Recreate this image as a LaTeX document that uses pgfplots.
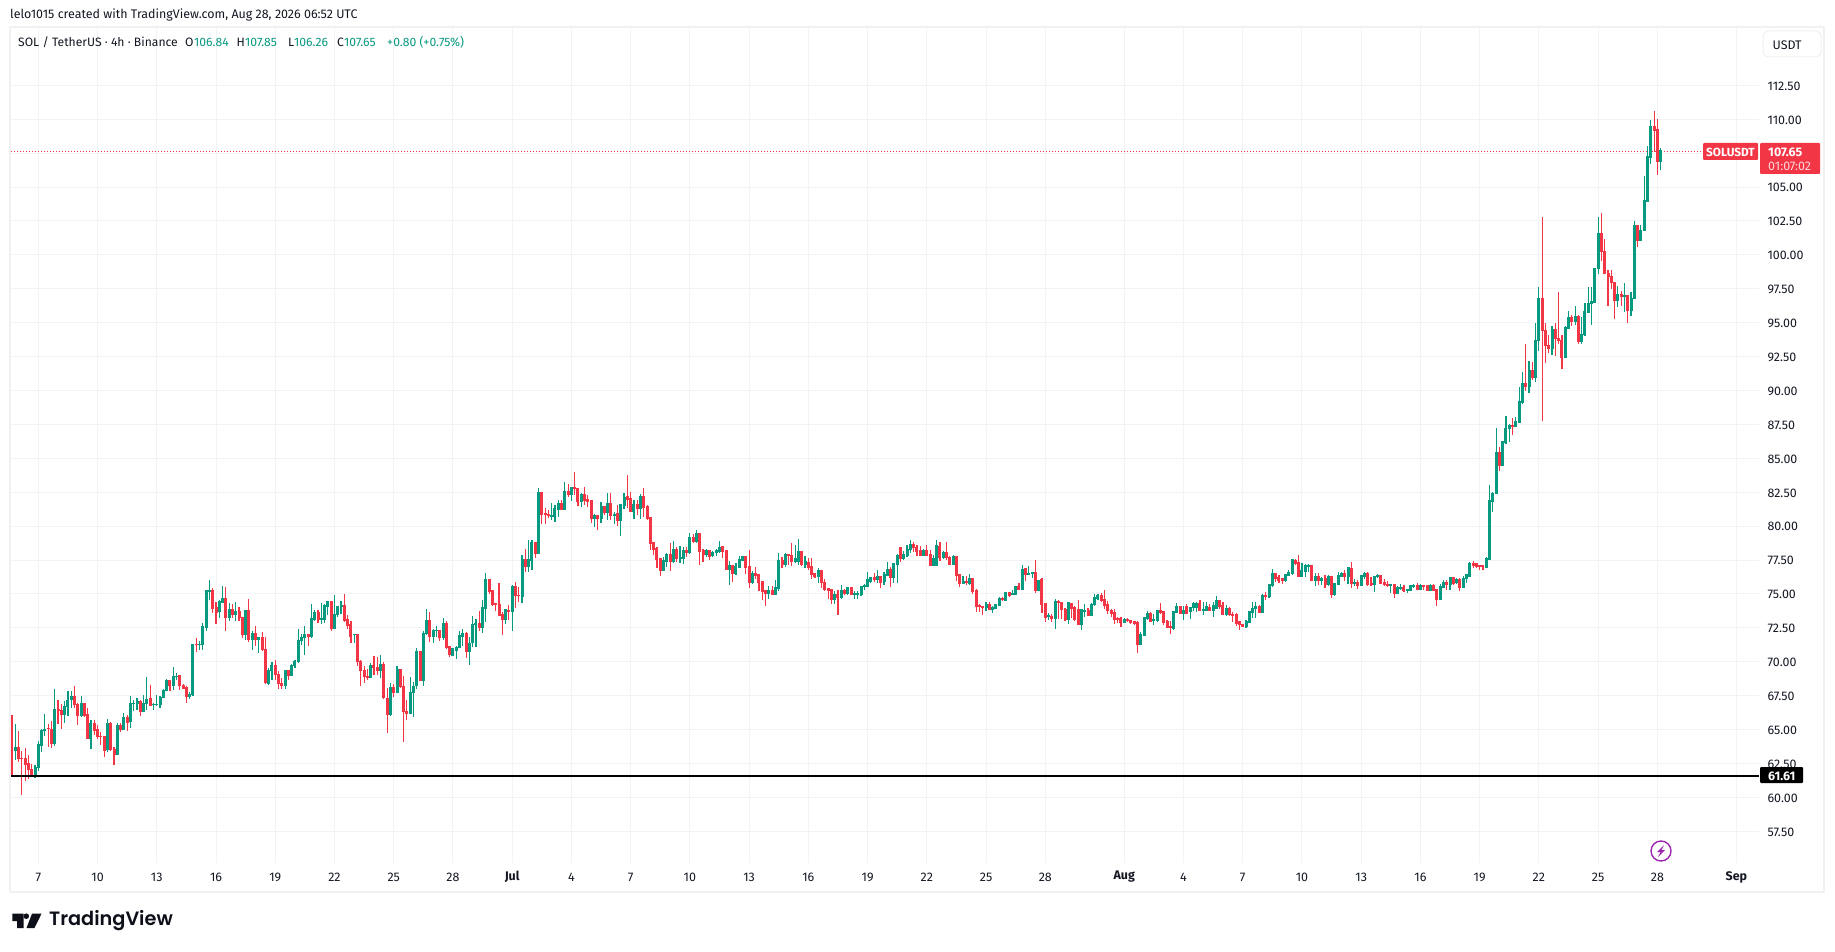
\documentclass[border=0pt]{standalone}
\usepackage{pgfplots}
\usepackage{pgfplotstable}
\usepackage{fontspec}
\pgfplotsset{compat=1.18}
\setmainfont{Fira Sans}
\newfontfamily\tvfont{Poppins}[BoldFont={* SemiBold}]
\definecolor{up}{HTML}{089981}
\definecolor{down}{HTML}{F23645}
\definecolor{gridc}{HTML}{F2F3F5}
\definecolor{framec}{HTML}{F1F1F1}
\definecolor{ink}{HTML}{131722}
\definecolor{purp}{HTML}{9C27B0}
\newcommand\fs{\fontsize{12.45}{15}\selectfont}
\newcommand\fl{\fontsize{12.15}{15}\selectfont}
% columns: bar index, body top, body bottom, wick top, wick bottom
\pgfplotstableread{
i bt bb wt wb
1 63.63 63.41 65.44 62.79
7 62.2 61.57 62.38 61.42
8 63.85 62.13 64.14 61.96
9 64.93 63.77 65.02 63.36
10 65.02 64.88 66.13 64.5
13 66.5 63.92 67.97 63.77
16 66.7 66.05 67.08 65.47
17 67.16 66.64 67.82 65.98
18 67.45 67.16 67.82 66.57
21 66.94 65.98 67.45 65.9
24 65.4 64.29 65.69 63.55
29 65.47 63.48 65.76 63.33
32 65.32 63.11 65.47 63.11
34 65.9 64.95 66.2 64.95
36 66.94 65.54 67.45 65.1
37 66.94 66.86 67.16 66.35
38 67.08 66.86 67.3 66.42
40 66.94 66.27 67.52 66.27
41 67.23 66.86 68.85 66.42
43 66.86 66.79 66.94 66.42
44 66.86 66.79 67.52 66.72
45 67.38 66.79 67.45 66.57
46 67.89 67.3 67.97 67.3
47 68.63 67.82 68.7 67.82
49 68.92 68.19 69.58 67.89
50 68.92 68.85 69.14 68.63
54 67.6 67.38 67.75 67.23
55 71.27 67.52 71.27 67.45
57 71.27 71.2 71.5 70.83
58 72.6 71.2 72.82 70.83
59 75.25 72.52 75.25 72.3
60 75.25 75.17 76.05 74.58
63 74.44 73.7 74.58 73.19
64 74.66 74.36 75.6 74.36
66 73.85 73.19 74.36 73.04
68 73.7 73.48 74.44 73.04
71 73.77 71.94 73.85 71.57
73 72.08 71.57 72.23 70.83
75 71.79 71.57 71.86 70.61
78 69.36 68.33 69.51 68.26
79 69.73 69.29 69.95 68.63
83 69.36 68.19 69.36 67.97
85 69.73 68.92 69.8 68.92
86 70.02 69.66 70.1 69.51
87 71.57 69.95 72.45 69.88
88 71.79 71.5 72.08 71.2
89 72.01 71.72 72.6 70.47
91 73.19 71.79 74.29 71.72
92 73.63 73.11 73.85 72.97
94 73.19 73.11 74.36 72.75
95 74.14 73.11 74.29 72.89
96 74.44 74.07 74.51 73.41
98 73.48 72.38 74.95 72.38
99 74.07 73.48 74.14 73.33
100 74.14 74.07 74.51 73.55
104 72.01 71.94 72.08 71.35
109 69.73 68.77 69.88 68.77
112 69.8 69.29 70.47 68.77
115 68.11 66.05 68.41 65.98
117 69.44 67.67 69.66 67.67
121 67.75 66.13 68.85 66.13
122 68.19 67.67 68.48 65.9
123 70.76 68.19 70.98 67.97
125 72.08 68.55 72.23 68.19
126 73.04 72.01 73.92 71.94
128 72.3 71.86 72.38 71.35
129 72.3 72.23 72.6 71.79
131 72.82 71.72 73.19 71.64
134 70.98 70.39 70.98 70.39
135 71.05 70.76 71.13 70.17
136 71.94 70.98 72.23 70.98
137 72.08 71.86 72.38 71.13
139 71.35 70.69 71.79 69.73
140 72.71 71.36 73.38 71.12
141 72.79 72.71 73.13 71.12
143 73.97 72.49 74.56 72.15
144 76.03 73.92 76.55 72.96
150 73.82 73.08 73.87 72.79
152 75.52 73.67 75.66 72.27
155 77.51 74.8 77.87 74.36
157 77.51 76.99 78.98 76.62
158 78.76 77.43 78.98 76.77
160 82.44 77.95 82.81 77.95
164 80.75 80.68 81.73 80.45
165 81.27 80.68 81.56 80.31
166 81.63 81.19 81.93 80.68
168 82.52 81.19 83.26 81.19
170 82.81 82.3 82.89 81.85
173 82.3 81.78 82.44 81.41
177 80.75 80.53 80.9 79.94
179 81.41 80.53 81.78 80.23
181 81.63 80.97 82.44 80.45
183 80.82 80.75 81.04 80.16
185 81.56 80.38 81.56 79.28
186 82.08 81.49 82.44 81.27
189 81.56 81.04 81.93 80.53
191 82.15 81.27 82.37 80.53
198 77.43 76.7 77.73 76.7
199 77.87 77.36 78.02 76.99
201 78.24 77.36 78.91 77.28
203 77.65 77.58 78.54 77.28
204 78.17 77.58 78.46 77.21
206 79.13 78.02 79.5 77.95
208 79.42 78.83 79.72 78.76
211 78.17 77.87 78.32 77.73
213 78.02 77.8 78.17 77.73
214 78.17 78.02 78.32 77.8
215 78.39 78.1 78.91 78.02
218 77.06 76.77 77.43 75.66
220 76.99 76.47 77.28 76.4
221 77.51 76.92 77.8 76.92
222 77.73 77.43 77.8 77.43
225 76.47 75.81 76.7 75.74
230 75.22 75.0 75.59 74.63
232 75.44 74.93 76.03 74.93
233 77.43 75.37 78.02 75.22
235 77.87 77.14 78.02 76.99
238 77.58 77.36 78.61 77.28
239 78.1 77.36 79.05 77.14
241 77.36 77.14 77.8 76.92
245 76.7 76.25 76.92 75.81
250 74.93 74.56 75.22 74.26
252 75.22 74.71 75.66 74.63
254 75.44 75.0 75.52 74.93
256 75.0 74.93 75.22 74.63
257 75.0 74.93 75.22 74.63
258 75.52 74.93 75.59 74.85
259 75.59 75.52 75.74 75.3
260 76.03 75.52 76.62 75.52
261 76.18 75.88 76.25 75.81
263 76.25 76.03 76.77 75.81
265 76.4 75.88 76.62 75.66
266 76.77 76.33 77.36 76.33
268 77.21 76.18 77.28 75.81
269 77.8 77.14 77.95 75.81
271 77.9 77.6 78.15 77.53
272 78.27 77.78 78.64 77.73
273 78.64 78.27 78.94 78.02
277 78.22 77.83 78.32 77.83
280 77.58 77.09 77.9 77.09
281 78.57 77.09 78.94 77.09
283 78.02 77.65 78.2 77.58
286 77.73 77.16 77.88 77.16
289 75.9 75.75 76.35 75.75
291 76.12 75.75 76.5 75.65
296 74.2 73.98 74.42 73.75
298 74.0 73.78 74.12 73.6
299 74.2 73.88 74.27 73.88
300 74.64 74.12 74.79 74.12
302 75.09 74.49 75.09 74.49
304 75.01 74.94 75.31 74.94
305 75.53 74.94 75.53 74.94
307 76.79 75.31 77.16 75.31
309 76.49 76.42 77.09 76.42
310 76.57 76.49 76.64 76.17
312 75.98 75.23 76.05 75.23
315 73.38 73.3 73.6 73.09
317 74.42 73.16 74.64 72.42
321 74.35 73.09 74.35 72.79
325 73.83 72.72 73.83 72.35
326 73.75 73.68 74.27 73.3
328 74.2 73.38 74.35 73.38
329 74.72 74.2 75.01 74.12
330 74.86 74.64 75.01 74.57
338 73.09 72.86 73.23 72.86
343 71.98 71.23 72.2 71.23
344 73.23 71.9 73.3 71.9
345 73.53 73.16 73.75 73.09
347 73.09 73.01 73.53 72.72
348 73.75 73.01 73.83 72.94
353 73.68 72.42 73.75 72.35
354 74.05 73.6 74.35 73.6
356 73.75 73.53 74.12 73.09
358 73.98 73.68 74.05 73.16
359 74.27 73.98 74.42 73.75
360 74.27 73.98 74.42 73.68
362 73.83 73.75 74.42 73.46
363 74.05 73.75 74.42 73.75
365 74.12 73.75 74.42 73.3
366 74.49 73.9 74.86 73.9
369 73.9 73.46 74.2 73.38
375 72.94 72.57 73.09 72.49
376 73.68 72.86 73.75 72.86
377 73.9 73.6 74.42 73.23
378 74.05 73.9 74.42 73.23
380 74.86 73.6 75.01 73.6
382 75.68 74.79 75.75 74.72
383 76.49 75.6 76.86 75.53
387 76.42 75.98 76.49 75.9
388 76.57 76.35 76.79 76.35
389 77.53 76.49 77.6 76.42
392 76.72 76.27 77.31 76.27
393 77.09 76.64 77.23 76.27
394 77.09 77.01 77.23 76.64
396 76.27 75.98 76.57 75.6
398 76.12 75.98 76.27 75.68
400 76.27 75.68 76.42 75.6
402 75.75 74.94 75.75 74.86
403 76.35 75.68 76.64 75.68
404 76.49 76.27 76.64 76.27
406 76.94 76.27 76.94 75.75
408 75.83 75.75 76.12 75.6
410 76.35 75.6 76.35 75.6
411 76.49 76.27 76.64 76.12
414 76.27 75.68 76.35 75.16
415 76.35 76.27 76.49 76.2
419 75.68 75.6 75.75 75.09
421 75.46 75.01 75.6 75.01
422 75.46 75.38 75.75 75.31
424 75.31 75.23 75.38 75.09
425 75.6 75.23 75.68 75.23
426 75.6 75.53 75.75 75.46
428 75.6 75.31 75.75 75.31
431 75.6 75.23 75.75 75.23
434 75.53 74.57 75.75 74.57
435 75.83 75.46 76.05 75.46
437 76.2 75.68 76.27 75.31
439 76.05 75.83 76.2 75.75
441 76.12 75.46 76.35 75.46
442 76.42 76.12 76.49 75.83
443 77.23 76.27 77.38 76.27
448 77.58 76.94 77.75 76.94
449 81.84 77.49 83.02 77.49
450 82.36 81.77 82.51 81.03
451 85.38 82.36 87.22 82.36
453 86.19 84.42 86.27 84.42
454 87.22 86.12 88.11 86.04
455 87.37 87.15 87.52 86.19
457 87.67 87.3 88.03 87.3
458 89.14 87.59 90.25 87.59
459 90.47 89.07 91.35 88.99
461 91.43 90.25 92.16 89.8
463 93.67 90.91 95.0 90.6
464 96.77 93.67 97.61 92.88
468 94.48 93.05 94.78 92.64
472 94.63 92.41 94.78 92.41
473 95.37 94.56 95.89 94.56
475 95.44 95.07 96.26 94.85
477 94.11 93.6 95.44 93.45
478 95.81 94.11 96.48 94.04
479 96.4 95.74 97.61 95.74
480 96.55 96.4 97.61 94.85
481 98.99 96.48 98.99 96.48
482 101.58 98.99 102.78 98.62
488 97.07 96.58 97.68 96.18
490 97.0 96.87 97.91 95.76
492 96.77 95.89 97.24 95.52
493 102.12 96.77 102.49 96.77
495 101.75 101.01 102.19 101.01
496 103.97 101.75 105.81 101.75
497 107.22 103.89 108.03 103.89
498 109.43 107.14 109.95 106.7
501 107.65 106.84 107.85 106.26
}\upbars
\pgfplotstableread{
i bt bb wt wb
0 64.29 63.41 66.05 61.52
2 63.63 62.82 64.88 62.62
3 62.87 62.82 63.4 60.17
4 62.82 62.38 63.63 61.23
5 62.45 62.0 63.1 61.35
6 62.06 61.57 62.45 61.47
11 65.1 65.02 65.4 63.73
12 65.02 63.92 65.6 63.63
14 66.5 66.35 67.16 65.39
15 66.42 66.05 66.86 65.02
19 67.45 66.79 68.19 66.57
20 66.86 65.98 66.94 65.32
22 66.94 65.98 66.94 65.9
23 66.13 64.29 66.57 64.29
25 65.47 64.88 65.69 64.58
26 65.02 64.44 65.32 64.29
27 64.51 64.44 64.8 63.85
28 64.51 63.41 64.51 62.97
30 65.47 63.48 65.54 63.41
31 63.55 63.11 63.7 62.38
33 65.32 64.95 65.47 64.8
35 65.9 65.47 66.05 64.88
39 67.08 66.27 67.16 65.98
42 67.3 66.72 68.26 66.72
48 68.63 68.19 68.63 67.82
51 69.0 68.19 69.0 67.89
52 68.26 67.97 68.33 67.97
53 68.11 67.38 68.19 66.94
56 71.27 71.2 71.72 70.69
61 75.25 73.92 75.47 73.63
62 73.99 73.63 74.44 72.75
65 74.66 73.19 75.54 72.3
67 73.85 73.41 74.29 73.26
69 73.7 73.19 74.07 72.97
70 73.28 71.94 73.33 71.72
72 73.77 71.57 74.66 71.42
74 72.08 71.57 72.67 71.13
76 71.79 70.83 72.16 70.76
77 70.91 68.41 71.79 68.33
80 69.73 69.0 70.1 68.63
81 69.07 68.33 69.29 67.97
82 68.41 68.19 68.77 67.97
84 69.36 68.92 69.36 68.63
90 72.01 71.79 72.08 71.13
93 73.63 73.11 73.85 72.89
97 74.44 72.38 74.51 72.3
101 74.14 73.04 75.02 72.97
102 73.11 72.67 73.48 72.45
103 72.75 71.86 72.97 71.35
105 72.01 69.95 72.01 69.66
106 70.02 69.29 70.1 68.19
107 69.36 68.85 69.66 68.41
108 68.92 68.77 69.44 68.63
110 69.73 69.51 70.39 68.99
111 69.58 69.29 70.32 68.99
113 69.8 67.3 69.95 67.23
114 67.3 66.05 68.04 64.73
116 68.11 67.67 68.33 67.38
118 69.44 68.11 69.44 68.04
119 68.19 66.27 68.92 64.07
120 66.35 66.13 67.16 65.69
124 70.76 68.55 70.76 68.55
127 73.04 71.86 73.7 71.42
130 72.3 71.72 72.3 71.5
132 72.82 71.05 73.04 70.91
133 71.13 70.47 71.13 70.32
138 72.08 70.69 72.16 70.25
142 72.79 72.49 73.74 72.27
145 76.03 75.17 76.03 75.0
146 75.25 74.19 75.25 74.12
147 74.26 74.19 74.31 73.75
148 74.19 73.38 75.79 73.38
149 73.45 73.08 73.7 71.98
151 73.75 73.67 74.19 73.08
153 75.52 74.88 75.88 73.99
154 74.9 74.88 75.49 74.43
156 77.51 76.99 78.32 76.62
159 78.76 77.95 78.76 77.65
161 82.44 80.82 82.44 80.16
162 80.9 80.82 81.34 80.16
163 80.82 80.75 81.19 80.6
167 81.63 81.19 81.93 81.19
169 82.52 82.3 83.11 82.15
171 82.81 82.74 83.99 82.3
172 82.74 81.78 82.81 81.49
174 82.3 81.85 82.89 81.56
175 81.93 81.78 82.3 81.41
176 81.85 80.53 81.85 80.23
178 80.75 80.53 80.82 79.72
180 81.41 80.97 81.49 80.82
182 81.63 80.75 82.44 80.45
184 80.9 80.38 81.56 80.01
187 82.15 81.93 83.77 81.34
188 82.0 81.04 82.52 81.04
190 81.56 81.27 81.93 80.82
192 82.15 81.34 82.81 80.68
193 81.41 80.53 81.56 80.45
194 80.6 78.69 80.6 78.24
195 78.76 78.24 78.76 77.87
196 78.32 77.51 78.46 76.92
197 77.58 76.7 77.58 76.33
200 77.87 77.36 78.76 76.7
202 78.24 77.58 78.46 77.36
205 78.17 78.02 78.46 77.73
207 79.13 78.83 79.42 78.76
209 79.42 78.1 79.42 77.14
210 78.17 77.87 78.32 77.36
212 78.17 77.73 78.24 77.51
216 78.46 78.1 78.46 77.65
217 78.17 76.77 78.17 76.77
219 77.06 76.47 77.14 75.88
223 77.73 76.92 77.73 76.47
224 76.99 75.81 78.24 75.44
226 76.47 76.33 76.99 76.1
227 76.4 75.81 76.47 75.22
228 75.88 75.15 75.88 74.56
229 75.22 75.0 75.3 74.12
231 75.22 74.93 75.59 74.93
234 77.43 77.14 77.73 76.92
236 77.87 77.8 77.95 77.14
237 77.8 77.36 78.76 77.06
240 78.1 77.14 78.17 77.06
242 77.28 76.92 77.65 76.77
243 76.99 76.4 77.65 76.1
244 76.47 76.25 76.55 76.18
246 76.7 75.81 76.7 75.44
247 75.81 75.3 76.1 75.22
248 75.37 75.22 75.37 74.63
249 75.3 74.56 75.3 74.26
251 74.93 74.71 75.3 73.45
253 75.22 75.0 75.37 74.93
255 75.44 74.93 75.44 74.93
262 76.18 76.03 76.55 75.88
264 76.25 75.81 76.33 75.44
267 76.77 76.18 76.99 75.52
270 78.4 77.6 78.4 77.38
274 78.64 78.35 78.81 78.07
275 78.4 78.12 78.62 77.83
276 78.2 77.83 78.57 77.83
278 78.22 77.83 78.64 77.83
279 77.9 77.09 78.27 77.09
282 78.49 77.65 78.86 77.4
284 78.02 77.63 78.86 77.5
285 77.65 77.16 77.83 77.16
287 77.75 76.35 77.75 75.93
288 76.42 75.75 76.42 75.5
290 75.9 75.83 76.3 75.65
292 76.15 75.16 76.15 75.01
293 75.23 74.05 75.38 73.68
294 74.12 74.05 74.27 73.68
295 74.05 73.98 74.12 73.46
297 74.2 73.78 74.42 73.78
301 74.64 74.57 74.79 74.49
303 75.09 74.86 75.16 74.79
306 75.53 75.31 75.83 75.31
308 76.86 76.42 76.86 75.98
311 76.57 75.23 77.53 75.09
313 76.05 74.2 76.2 73.6
314 74.27 73.23 74.27 72.94
316 73.3 73.16 73.53 72.94
318 74.42 74.35 74.57 73.16
319 74.35 73.83 74.42 73.16
320 73.83 73.09 73.98 73.01
322 74.27 73.9 74.27 73.23
323 73.98 73.09 74.12 73.01
324 73.83 72.72 74.57 72.72
327 73.75 73.38 73.98 73.38
331 74.86 74.49 75.09 74.42
332 74.57 74.12 75.31 73.9
333 74.2 73.75 74.49 73.53
334 73.75 73.53 73.9 73.3
335 73.6 73.09 73.9 72.79
336 73.16 73.09 73.3 72.86
337 73.16 72.86 73.3 72.57
339 73.09 73.01 73.23 72.94
340 73.01 72.86 73.09 72.79
341 72.94 72.79 73.01 72.72
342 72.86 71.23 73.01 70.64
346 73.53 72.94 73.68 72.94
349 73.75 73.6 74.35 73.53
350 73.68 72.86 73.68 72.72
351 72.94 72.49 73.09 72.49
352 72.57 72.49 73.01 72.05
355 74.05 73.53 74.12 73.53
357 74.05 73.53 74.27 73.53
361 74.27 73.75 74.57 73.75
364 73.98 73.75 74.27 73.75
367 74.49 74.05 74.57 73.9
368 74.12 73.46 74.42 73.46
370 73.9 73.46 74.05 73.38
371 73.46 73.38 73.68 72.94
372 73.46 72.79 73.6 72.64
373 72.94 72.72 73.01 72.35
374 72.72 72.57 72.79 72.57
379 74.05 73.6 74.2 73.6
381 74.86 74.79 75.16 74.57
384 76.49 76.12 76.57 75.9
385 76.2 75.98 76.42 75.83
386 76.12 75.98 76.2 75.75
390 77.46 77.23 77.6 77.16
391 77.31 76.27 77.9 76.27
395 77.09 75.98 77.16 75.98
397 76.27 75.98 76.57 75.68
399 76.12 75.68 76.42 75.46
401 76.27 74.94 76.35 74.72
405 76.49 76.27 76.79 75.98
407 76.86 75.75 77.38 75.46
409 75.83 75.6 76.05 75.38
412 76.49 75.68 76.64 75.6
413 75.75 75.68 76.27 75.6
416 76.35 75.75 76.42 75.75
417 75.83 75.68 76.12 75.6
418 75.68 75.6 75.98 75.53
420 75.68 75.01 75.68 74.72
423 75.46 75.23 75.68 75.16
427 75.6 75.31 75.83 75.31
429 75.6 75.53 75.68 75.31
430 75.6 75.23 75.6 75.23
432 75.6 75.23 75.75 75.23
433 75.31 74.57 75.38 74.12
436 75.83 75.68 76.05 75.31
438 76.2 75.75 76.27 75.68
440 76.05 75.46 76.2 75.23
444 77.23 77.09 77.46 76.94
445 77.23 77.01 77.23 76.94
446 77.09 77.01 77.16 76.79
447 77.09 77.01 77.16 76.79
452 85.38 84.42 85.82 84.05
456 87.37 87.3 87.96 86.71
460 90.47 90.25 93.42 89.95
462 91.43 90.91 92.09 90.76
465 96.77 94.41 102.78 87.76
466 94.41 93.3 95.0 92.04
467 93.3 93.05 94.11 92.78
469 94.48 93.79 95.0 92.56
470 93.82 93.67 97.24 93.45
471 93.67 92.41 94.11 91.55
474 95.37 95.07 95.59 94.78
476 95.44 93.6 95.59 93.45
483 101.58 100.2 103.08 99.53
484 100.27 98.57 101.16 98.57
485 98.64 98.35 98.87 96.26
486 98.42 97.91 98.87 97.46
487 97.98 96.58 97.98 95.3
489 97.07 96.87 97.32 96.21
491 97.0 95.89 97.0 94.95
494 102.12 101.01 102.19 100.57
499 109.43 109.14 110.62 107.59
500 109.21 106.85 110.02 105.89
}\downbars
\newcommand\wicks[2]{%
  \addplot[forget plot,no marks,draw=none,
    error bars/.cd,y dir=both,y explicit,error mark=none,
    error bar style={draw=#1,line width=1.15pt,line cap=butt}]
    table[x=i,y=bb,y error plus expr=\thisrow{wt}-\thisrow{bb},y error minus expr=\thisrow{bb}-\thisrow{wb}] {#2};}
\newcommand\bodies[2]{%
  \addplot[forget plot,no marks,draw=none,
    error bars/.cd,y dir=plus,y explicit,error mark=none,
    error bar style={draw=#1,line width=3pt,line cap=butt}]
    table[x=i,y=bb,y error plus expr=\thisrow{bt}-\thisrow{bb}+0.05] {#2};}
\begin{document}
\begin{tikzpicture}
\useasboundingbox (0,0) rectangle (1835pt,951pt);
\fill[white] (0,0) rectangle (1835pt,951pt);
\begin{axis}[
  at={(11pt,88pt)},anchor=south west,
  scale only axis,width=1748pt,height=835pt,
  xmin=-0.3,xmax=530.9,ymin=55.16,ymax=116.73,
  axis line style={draw=none},
  tick style={draw=none},
  grid=major,
  grid style={draw=gridc,line width=1pt},
  xtick={8,26,44,62,80,98,116,134,152,170,188,206,224,242,260,278,296,314,338,356,374,392,410,428,446,464,482,500,524},
  xticklabels={7,10,13,16,19,22,25,28,\textbf{Jul},4,7,10,13,16,19,22,25,28,\textbf{Aug},4,7,10,13,16,19,22,25,28,\textbf{Sep}},
  ytick={57.5,60,62.5,65,67.5,70,72.5,75,77.5,80,82.5,85,87.5,90,92.5,95,97.5,100,102.5,105,107.5,110,112.5},
  yticklabel pos=right,
  yticklabel style={/pgf/number format/fixed,/pgf/number format/fixed zerofill,/pgf/number format/precision=2,/pgf/number format/assume math mode=true,font=\fs,text=ink,anchor=west,xshift=5pt,yshift=-0.7pt},
  xticklabel style={font=\fs,text=ink,anchor=center,yshift=-14pt},
]
\addplot[forget plot,draw=down,line width=1.2pt,dash pattern=on 1.3pt off 1.7pt] coordinates {(-0.3,107.65) (530.9,107.65)};
\wicks{up}{\upbars}
\bodies{up}{\upbars}
\wicks{down}{\downbars}
\bodies{down}{\downbars}
\addplot[forget plot,draw=black,line width=2pt] coordinates {(-0.3,61.61) (530.9,61.61)};
\end{axis}
\begin{scope}[x=1pt,y=-1pt,shift={(0pt,951pt)}]
\draw[framec,line width=2pt] (10,27) rectangle (1824,891.5);
% top captions
\node[anchor=west,inner sep=0,font=\fs,text=ink] at (10,15) {lelo1015 created with TradingView.com, Aug 28, 2026 06:52 UTC};
\node[anchor=west,inner sep=0,font=\fl,text=ink] at (18,42) {SOL / TetherUS · 4h · Binance};
\foreach \xa/\la/\xb/\vb in {185/O/194/106.84,236.5/H/245/107.85,288/L/294/106.26,337/C/344/107.65}{
  \node[anchor=west,inner sep=0,font=\fl,text=ink] at (\xa,42) {\la};
  \node[anchor=west,inner sep=0,font=\fl,text=up] at (\xb,42) {\vb};
}
\node[anchor=west,inner sep=0,font=\fl,text=up] at (387,42) {+0.80 (+0.75\%)};
% USDT box
\draw[framec,line width=1pt,fill=white,rounded corners=5pt] (1763,31) rectangle (1821,57);
\node[anchor=west,inner sep=0,font=\fs,text=ink] at (1772.5,45) {USDT};
% last price labels
\fill[down,rounded corners=1pt] (1703,143) rectangle (1758,160);
\node[inner sep=0,font=\fs\bfseries,text=white] at (1730.5,152) {\fontsize{11.8}{14}\selectfont SOLUSDT};
\fill[down,rounded corners=1pt] (1760,143) rectangle (1820,174);
\node[anchor=west,inner sep=0,font=\fs\bfseries,text=white] at (1768,152) {107.65};
\node[anchor=west,inner sep=0,font=\fs,text=white,opacity=.8] at (1768,166) {01:07:02};
% level label
\fill[black,rounded corners=1pt] (1760,767) rectangle (1803,783);
\node[anchor=west,inner sep=0,font=\fs\bfseries,text=white] at (1768,776) {61.61};
% purple icon
\draw[fill=white,draw=purp,line width=1.4pt] (1661,851) circle (10);
\fill[purp] (1664,845) -- (1657,852) -- (1660.5,852) -- (1658,857) -- (1665,850) -- (1661.5,850) -- cycle;
% logo
\fill[ink!70!black] (12.3,913.7) -- (23.7,913.7) -- (23.7,928) -- (17,928) -- (17,921) -- (12.3,921) -- cycle;
\fill[ink!70!black] (26.3,916.2) circle (2.8);
\fill[ink!70!black] (32,913.7) -- (41.5,913.7) -- (34.5,928) -- (26.5,928) -- cycle;
\node[anchor=west,inner sep=0,font=\tvfont\bfseries\fontsize{19.3}{23}\selectfont,text=ink!70!black] at (49,921) {TradingView};
\end{scope}
\end{tikzpicture}
\end{document}
